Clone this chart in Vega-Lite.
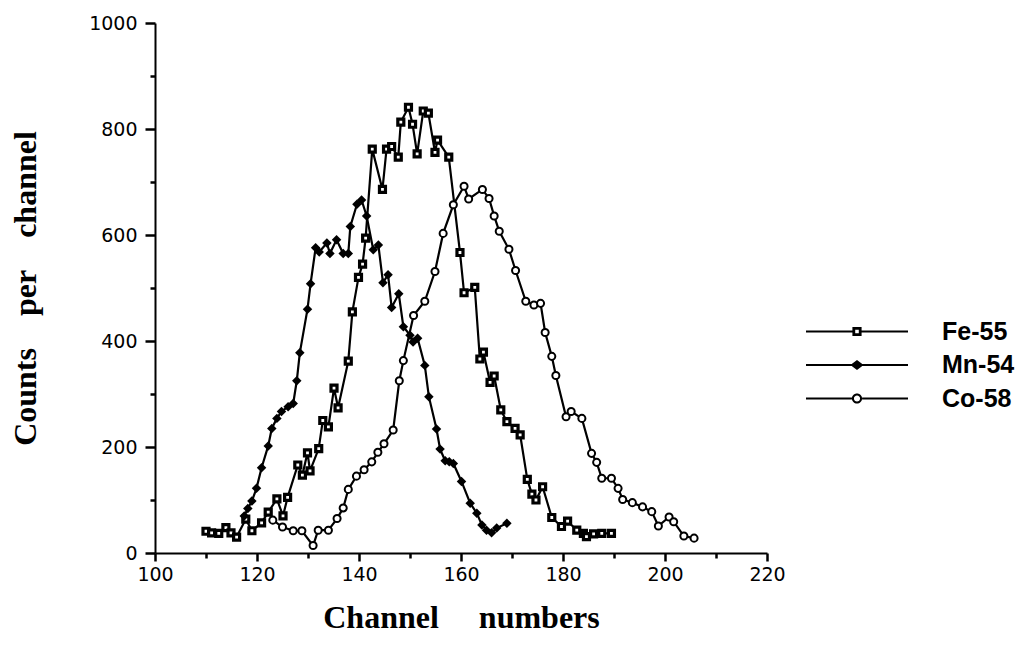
{
"$schema": "https://vega.github.io/schema/vega-lite/v6.json",
"width": 612, "height": 530,
"autosize": {"type": "none"},
"padding": {"left": 155, "top": 23, "right": 251, "bottom": 103},
"background": "white",
"config": {"view": {"stroke": null},
  "axis": {"domainColor": "black", "domainWidth": 2, "tickColor": "black", "tickWidth": 2.5, "labelColor": "black", "titleColor": "black", "grid": false}},
"data": {"values": [
{"series":"Fe-55","channel":110.0,"counts":41},{"series":"Fe-55","channel":111.1,"counts":38},{"series":"Fe-55","channel":112.5,"counts":37},{"series":"Fe-55","channel":113.9,"counts":48},{"series":"Fe-55","channel":114.9,"counts":38},{"series":"Fe-55","channel":116.0,"counts":30},{"series":"Fe-55","channel":117.8,"counts":64},{"series":"Fe-55","channel":119.0,"counts":42},{"series":"Fe-55","channel":120.9,"counts":57},{"series":"Fe-55","channel":122.2,"counts":77},{"series":"Fe-55","channel":123.9,"counts":102},{"series":"Fe-55","channel":125.1,"counts":70},{"series":"Fe-55","channel":126.0,"counts":105},{"series":"Fe-55","channel":128.0,"counts":166},{"series":"Fe-55","channel":128.9,"counts":147},{"series":"Fe-55","channel":129.9,"counts":189},{"series":"Fe-55","channel":130.4,"counts":155},{"series":"Fe-55","channel":132.1,"counts":197},{"series":"Fe-55","channel":132.9,"counts":250},{"series":"Fe-55","channel":134.0,"counts":238},{"series":"Fe-55","channel":135.1,"counts":311},{"series":"Fe-55","channel":135.9,"counts":274},{"series":"Fe-55","channel":137.9,"counts":362},{"series":"Fe-55","channel":138.7,"counts":455},{"series":"Fe-55","channel":139.9,"counts":520},{"series":"Fe-55","channel":140.7,"counts":545},{"series":"Fe-55","channel":141.3,"counts":594},{"series":"Fe-55","channel":142.6,"counts":762},{"series":"Fe-55","channel":144.6,"counts":686},{"series":"Fe-55","channel":145.4,"counts":762},{"series":"Fe-55","channel":146.4,"counts":767},{"series":"Fe-55","channel":147.7,"counts":747},{"series":"Fe-55","channel":148.2,"counts":813},{"series":"Fe-55","channel":149.7,"counts":841},{"series":"Fe-55","channel":150.5,"counts":809},{"series":"Fe-55","channel":151.4,"counts":753},{"series":"Fe-55","channel":152.6,"counts":834},{"series":"Fe-55","channel":153.6,"counts":830},{"series":"Fe-55","channel":154.9,"counts":756},{"series":"Fe-55","channel":155.4,"counts":779},{"series":"Fe-55","channel":157.6,"counts":747},{"series":"Fe-55","channel":159.8,"counts":567},{"series":"Fe-55","channel":160.6,"counts":491},{"series":"Fe-55","channel":162.7,"counts":501},{"series":"Fe-55","channel":163.7,"counts":366},{"series":"Fe-55","channel":164.4,"counts":379},{"series":"Fe-55","channel":165.7,"counts":322},{"series":"Fe-55","channel":166.5,"counts":334},{"series":"Fe-55","channel":167.8,"counts":270},{"series":"Fe-55","channel":169.0,"counts":248},{"series":"Fe-55","channel":170.6,"counts":235},{"series":"Fe-55","channel":171.6,"counts":223},{"series":"Fe-55","channel":173.0,"counts":139},{"series":"Fe-55","channel":173.9,"counts":111},{"series":"Fe-55","channel":174.7,"counts":100},{"series":"Fe-55","channel":176.0,"counts":125},{"series":"Fe-55","channel":177.8,"counts":67},{"series":"Fe-55","channel":179.7,"counts":50},{"series":"Fe-55","channel":180.9,"counts":60},{"series":"Fe-55","channel":182.7,"counts":43},{"series":"Fe-55","channel":184.0,"counts":37},{"series":"Fe-55","channel":184.6,"counts":31},{"series":"Fe-55","channel":186.0,"counts":36},{"series":"Fe-55","channel":187.6,"counts":37},{"series":"Fe-55","channel":189.5,"counts":37},
{"series":"Mn-54","channel":117.5,"counts":70},{"series":"Mn-54","channel":118.2,"counts":84},{"series":"Mn-54","channel":119.0,"counts":98},{"series":"Mn-54","channel":119.9,"counts":122},{"series":"Mn-54","channel":120.9,"counts":161},{"series":"Mn-54","channel":122.2,"counts":202},{"series":"Mn-54","channel":122.9,"counts":235},{"series":"Mn-54","channel":123.9,"counts":254},{"series":"Mn-54","channel":124.8,"counts":267},{"series":"Mn-54","channel":126.1,"counts":276},{"series":"Mn-54","channel":127.1,"counts":282},{"series":"Mn-54","channel":127.8,"counts":325},{"series":"Mn-54","channel":128.4,"counts":378},{"series":"Mn-54","channel":129.9,"counts":460},{"series":"Mn-54","channel":130.5,"counts":508},{"series":"Mn-54","channel":131.5,"counts":576},{"series":"Mn-54","channel":132.2,"counts":568},{"series":"Mn-54","channel":133.7,"counts":585},{"series":"Mn-54","channel":134.3,"counts":565},{"series":"Mn-54","channel":135.6,"counts":591},{"series":"Mn-54","channel":136.9,"counts":565},{"series":"Mn-54","channel":137.9,"counts":565},{"series":"Mn-54","channel":138.3,"counts":616},{"series":"Mn-54","channel":139.6,"counts":658},{"series":"Mn-54","channel":140.5,"counts":666},{"series":"Mn-54","channel":141.5,"counts":636},{"series":"Mn-54","channel":142.8,"counts":572},{"series":"Mn-54","channel":143.8,"counts":581},{"series":"Mn-54","channel":144.7,"counts":510},{"series":"Mn-54","channel":145.7,"counts":525},{"series":"Mn-54","channel":146.4,"counts":463},{"series":"Mn-54","channel":147.8,"counts":489},{"series":"Mn-54","channel":148.7,"counts":427},{"series":"Mn-54","channel":150.0,"counts":411},{"series":"Mn-54","channel":150.6,"counts":398},{"series":"Mn-54","channel":151.5,"counts":405},{"series":"Mn-54","channel":152.9,"counts":354},{"series":"Mn-54","channel":153.7,"counts":295},{"series":"Mn-54","channel":155.2,"counts":234},{"series":"Mn-54","channel":155.9,"counts":196},{"series":"Mn-54","channel":156.9,"counts":174},{"series":"Mn-54","channel":157.7,"counts":172},{"series":"Mn-54","channel":158.5,"counts":169},{"series":"Mn-54","channel":160.1,"counts":135},{"series":"Mn-54","channel":161.8,"counts":94},{"series":"Mn-54","channel":163.1,"counts":75},{"series":"Mn-54","channel":164.1,"counts":53},{"series":"Mn-54","channel":165.0,"counts":43},{"series":"Mn-54","channel":166.0,"counts":38},{"series":"Mn-54","channel":167.0,"counts":47},{"series":"Mn-54","channel":169.0,"counts":56},
{"series":"Co-58","channel":123.1,"counts":62},{"series":"Co-58","channel":125.0,"counts":49},{"series":"Co-58","channel":127.1,"counts":42},{"series":"Co-58","channel":128.8,"counts":42},{"series":"Co-58","channel":131.0,"counts":14},{"series":"Co-58","channel":132.0,"counts":43},{"series":"Co-58","channel":134.0,"counts":43},{"series":"Co-58","channel":135.7,"counts":65},{"series":"Co-58","channel":136.9,"counts":85},{"series":"Co-58","channel":137.9,"counts":120},{"series":"Co-58","channel":139.5,"counts":145},{"series":"Co-58","channel":141.0,"counts":157},{"series":"Co-58","channel":142.5,"counts":172},{"series":"Co-58","channel":143.7,"counts":190},{"series":"Co-58","channel":144.9,"counts":206},{"series":"Co-58","channel":146.7,"counts":232},{"series":"Co-58","channel":147.9,"counts":325},{"series":"Co-58","channel":148.7,"counts":363},{"series":"Co-58","channel":150.7,"counts":448},{"series":"Co-58","channel":152.9,"counts":475},{"series":"Co-58","channel":154.9,"counts":531},{"series":"Co-58","channel":156.5,"counts":603},{"series":"Co-58","channel":158.5,"counts":657},{"series":"Co-58","channel":160.6,"counts":692},{"series":"Co-58","channel":161.5,"counts":668},{"series":"Co-58","channel":164.2,"counts":686},{"series":"Co-58","channel":165.5,"counts":669},{"series":"Co-58","channel":166.5,"counts":636},{"series":"Co-58","channel":167.5,"counts":607},{"series":"Co-58","channel":169.4,"counts":573},{"series":"Co-58","channel":170.7,"counts":533},{"series":"Co-58","channel":172.7,"counts":475},{"series":"Co-58","channel":174.3,"counts":468},{"series":"Co-58","channel":175.6,"counts":471},{"series":"Co-58","channel":176.5,"counts":416},{"series":"Co-58","channel":177.8,"counts":371},{"series":"Co-58","channel":178.6,"counts":335},{"series":"Co-58","channel":180.6,"counts":257},{"series":"Co-58","channel":181.6,"counts":267},{"series":"Co-58","channel":183.7,"counts":254},{"series":"Co-58","channel":185.6,"counts":188},{"series":"Co-58","channel":186.6,"counts":171},{"series":"Co-58","channel":187.6,"counts":141},{"series":"Co-58","channel":189.5,"counts":141},{"series":"Co-58","channel":190.8,"counts":122},{"series":"Co-58","channel":191.7,"counts":101},{"series":"Co-58","channel":193.6,"counts":95},{"series":"Co-58","channel":195.6,"counts":87},{"series":"Co-58","channel":197.4,"counts":78},{"series":"Co-58","channel":198.7,"counts":51},{"series":"Co-58","channel":200.8,"counts":68},{"series":"Co-58","channel":201.7,"counts":59},{"series":"Co-58","channel":203.7,"counts":32},{"series":"Co-58","channel":205.7,"counts":28}
]},
"resolve": {"axis": {"x": "independent", "y": "independent"}},
"layer": [
  {"mark": {"type": "line", "color": "black", "strokeWidth": 2.2},
   "encoding": {
     "x": {"field": "channel", "type": "quantitative",
       "scale": {"domain": [100, 220], "nice": false, "zero": false},
       "axis": {"orient": "bottom", "values": [100,120,140,160,180,200,220],
         "format": "d", "labelOverlap": false, "labelFlush": false, "ticks": true, "tickSize": 8,
         "labelFont": "DejaVu Sans", "labelFontSize": 19, "labelPadding": 4,
         "title": "Channel\u00a0\u00a0\u00a0\u00a0\u00a0numbers", "titleFont": "Liberation Serif", "titleFontSize": 32,
         "titleFontWeight": "bold", "titlePadding": 18}},
     "y": {"field": "counts", "type": "quantitative",
       "scale": {"domain": [0, 1000], "nice": false},
       "axis": {"orient": "left", "values": [0,200,400,600,800,1000],
         "format": "d", "labelOverlap": false, "labelFlush": false, "ticks": true, "tickSize": 10,
         "labelFont": "DejaVu Sans", "labelFontSize": 19, "labelPadding": 8,
         "title": "Counts\u00a0\u00a0\u00a0\u00a0per\u00a0\u00a0\u00a0\u00a0channel", "titleFont": "Liberation Serif", "titleFontSize": 32,
         "titleFontWeight": "bold", "titlePadding": 46}},
     "detail": {"field": "series"}}},
  {"transform": [{"filter": "datum.series === 'Fe-55'"}],
   "mark": {"type": "point", "shape": "square", "filled": true, "fill": "white", "stroke": "black", "strokeWidth": 3.2, "size": 36, "opacity": 1},
   "encoding": {
     "x": {"field": "channel", "type": "quantitative",
       "axis": {"orient": "bottom", "values": [110,130,150,170,190,210], "labels": false, "domain": false, "title": null, "ticks": true, "tickSize": 5}},
     "y": {"field": "counts", "type": "quantitative",
       "axis": {"orient": "left", "values": [100,300,500,700,900], "labels": false, "domain": false, "title": null, "ticks": true, "tickSize": 5}}}},
  {"transform": [{"filter": "datum.series === 'Mn-54'"}],
   "mark": {"type": "point", "shape": "diamond", "filled": true, "color": "black", "size": 90, "opacity": 1},
   "encoding": {
     "x": {"field": "channel", "type": "quantitative", "axis": null},
     "y": {"field": "counts", "type": "quantitative", "axis": null}}},
  {"transform": [{"filter": "datum.series === 'Co-58'"}],
   "mark": {"type": "point", "shape": "circle", "filled": true, "fill": "white", "stroke": "black", "strokeWidth": 2, "size": 50, "opacity": 1},
   "encoding": {
     "x": {"field": "channel", "type": "quantitative", "axis": null},
     "y": {"field": "counts", "type": "quantitative", "axis": null}}},
  {"transform": [{"filter": "false"}],
   "mark": {"type": "point", "filled": true, "color": "black", "opacity": 1},
   "encoding": {
     "shape": {"field": "series", "type": "nominal",
       "scale": {"domain": ["Fe-55", "Mn-54", "Co-58"],
         "range": ["M-1,-0.02H-0.08V0.02H-1ZM0.08,-0.02H1V0.02H0.08ZM-0.09,-0.09H0.09V0.09H-0.09ZM-0.035,-0.035V0.035H0.035V-0.035Z",
                   "M-1,-0.02H1V0.02H-1ZM-0.13,0L0,-0.1L0.13,0L0,0.1Z",
                   "M-1,-0.02H-0.1V0.02H-1ZM0.1,-0.02H1V0.02H0.1ZM-0.1,0A0.1,0.1,0,1,1,0.1,0A0.1,0.1,0,1,1,-0.1,0ZM-0.06,0A0.06,0.06,0,1,0,0.06,0A0.06,0.06,0,1,0,-0.06,0Z"]},
       "legend": {"title": null, "orient": "none", "legendX": 651, "legendY": 296, "symbolSize": 10404,
         "symbolStrokeWidth": 0, "symbolFillColor": "black", "clipHeight": 25, "rowPadding": 7.5,
         "labelFont": "Liberation Sans", "labelFontSize": 25, "labelFontWeight": "bold", "labelColor": "black",
         "labelOffset": 34, "padding": 0}}
   }}
]
}
